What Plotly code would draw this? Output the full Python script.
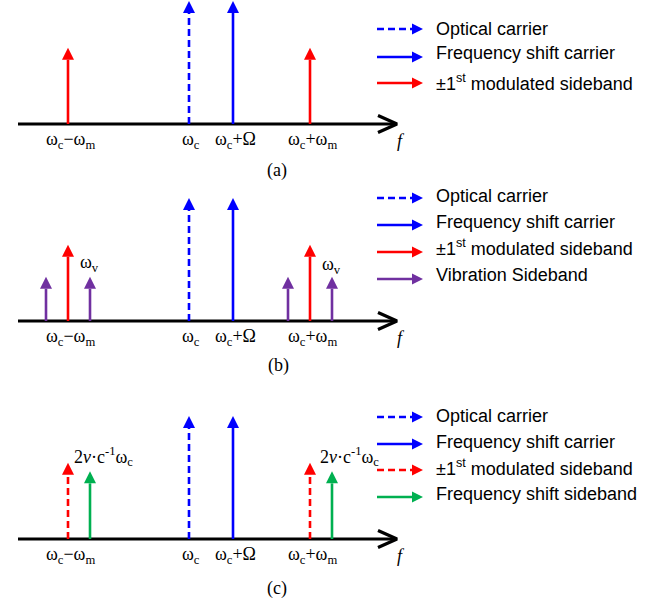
import plotly.graph_objects as go

# ---------------------------------------------------------------------------
# Spectral content (frequency offset from the optical carrier ω_c, in units
# of the vibration frequency ω_v; amplitudes relative to the carrier)
# ---------------------------------------------------------------------------
carrier_freq = [0.0]                      # ω_c
shift_carrier_freq = [2.0]                # ω_c + Ω
sideband_freq = [-5.5, 5.5]               # ω_c ± ω_m
vibration_freq = [-6.5, -4.5, 4.5, 6.5]   # ω_c ± ω_m ± ω_v
doppler_freq = [-4.5, 6.5]                # ω_c ± ω_m + 2v·c⁻¹·ω_c

carrier_amp = [1.0]
shift_carrier_amp = [1.0]
sideband_amp = [0.62, 0.62]
vibration_amp = [0.36, 0.36, 0.36, 0.36]
doppler_amp = [0.55, 0.55]

tick_freq = [-5.5, 0.0, 2.0, 5.5]
tick_text = [
    "ω<sub>c</sub>−ω<sub>m</sub>",
    "ω<sub>c</sub>",
    "ω<sub>c</sub>+Ω",
    "ω<sub>c</sub>+ω<sub>m</sub>",
]
panel_captions = ["(a)", "(b)", "(c)"]

legend_text = {
    "carrier": "Optical carrier",
    "shift": "Frequency shift carrier",
    "side": "±1<sup>st</sup> modulated sideband",
    "side_dashed": "±1<sup>st</sup> modulated sideband",
    "vib": "Vibration Sideband",
    "doppler": "Frequency shift sideband",
}

# components drawn in each panel
panels = [
    [("carrier", carrier_freq, carrier_amp),
     ("shift", shift_carrier_freq, shift_carrier_amp),
     ("side", sideband_freq, sideband_amp)],
    [("carrier", carrier_freq, carrier_amp),
     ("shift", shift_carrier_freq, shift_carrier_amp),
     ("side", sideband_freq, sideband_amp),
     ("vib", vibration_freq, vibration_amp)],
    [("carrier", carrier_freq, carrier_amp),
     ("shift", shift_carrier_freq, shift_carrier_amp),
     ("side_dashed", sideband_freq, sideband_amp),
     ("doppler", doppler_freq, doppler_amp)],
]

# ---------------------------------------------------------------------------
# Styling and layout
# ---------------------------------------------------------------------------
BLUE, RED, PURPLE, GREEN = "#0000FF", "#FF0000", "#7030A0", "#00B050"
DASH = "7px,4px"
STYLE = {
    "carrier": (BLUE, DASH),
    "shift": (BLUE, "solid"),
    "side": (RED, "solid"),
    "side_dashed": (RED, DASH),
    "vib": (PURPLE, "solid"),
    "doppler": (GREEN, "solid"),
}

SERIF = "Liberation Serif"
SANS = "Liberation Sans"

W, H = 657, 603
PX_X = 22.0            # pixels per frequency unit
PX_Y = 123.0           # pixels per amplitude unit
CARRIER_PX = 189       # horizontal pixel of ω_c
X_RANGE = [-CARRIER_PX / PX_X, (W - CARRIER_PX) / PX_X]
AXIS_START = (18 - CARRIER_PX) / PX_X
AXIS_END = (397 - CARRIER_PX) / PX_X
BASELINE_PX = [124, 321, 539]
BANDS = [(0, 200), (185, 395), (395, 603)]
HEAD = 12              # arrow head size, px
STEM_W = 2.6
AXIS_W = 3.2

CAPTION_POS = [(277, 170), (278, 365), (277, 588)]
LEG_X0, LEG_TIP, LEG_TEXT_X = 377, 423, 434
LEG_HEAD = 11
LEG_ARROW_Y = [[29, 57, 83], [198, 225, 252, 279], [417, 444, 470, 497]]
LEG_TEXT_Y = [[29, 53, 82], [196, 222, 247, 275], [416, 442, 467, 494]]

fig = go.Figure()
annotations = []
layout_axes = {}

for p, comps in enumerate(panels):
    s = "" if p == 0 else str(p + 1)
    xa, ya = "x" + s, "y" + s
    top, bot = BANDS[p]
    base = BASELINE_PX[p]
    layout_axes["xaxis" + s] = dict(domain=[0, 1], range=X_RANGE, visible=False,
                                    anchor=ya, fixedrange=True)
    layout_axes["yaxis" + s] = dict(domain=[1 - bot / H, 1 - top / H],
                                    range=[-(bot - base) / PX_Y, (base - top) / PX_Y],
                                    visible=False, anchor=xa, fixedrange=True)

    # frequency axis with open arrow head
    fig.add_trace(go.Scatter(x=[AXIS_START, AXIS_END - 0.05], y=[0, 0], mode="lines",
                             line=dict(color="black", width=AXIS_W),
                             xaxis=xa, yaxis=ya, hoverinfo="skip"))
    fig.add_trace(go.Scatter(x=[AXIS_END - 19 / PX_X, AXIS_END, AXIS_END - 19 / PX_X],
                             y=[8.5 / PX_Y, 0, -8.5 / PX_Y], mode="lines",
                             line=dict(color="black", width=AXIS_W),
                             xaxis=xa, yaxis=ya, hoverinfo="skip", cliponaxis=False))

    # spectral lines: stems + filled arrow heads
    for key, freqs, amps in comps:
        color, dash = STYLE[key]
        xs, ys = [], []
        for f, a in zip(freqs, amps):
            xs += [f, f, None]
            ys += [0, a - HEAD / PX_Y, None]
        fig.add_trace(go.Scatter(x=xs, y=ys, mode="lines",
                                 line=dict(color=color, width=STEM_W, dash=dash),
                                 xaxis=xa, yaxis=ya, hoverinfo="skip", cliponaxis=False))
        fig.add_trace(go.Scatter(x=freqs, y=amps, mode="markers",
                                 marker=dict(symbol="arrow-up", size=HEAD, color=color,
                                             line=dict(width=0)),
                                 xaxis=xa, yaxis=ya, hoverinfo="skip", cliponaxis=False))

    # frequency labels under the axis
    for f, t in zip(tick_freq, tick_text):
        annotations.append(dict(x=f, y=0, xref=xa, yref=ya, text=t, showarrow=False,
                                xanchor="center", yanchor="middle", xshift=2, yshift=-16,
                                font=dict(family=SERIF, size=18, color="black")))
    annotations.append(dict(x=AXIS_END, y=0, xref=xa, yref=ya, text="<i>f</i>",
                            showarrow=False, xanchor="center", yanchor="middle",
                            xshift=4, yshift=-17,
                            font=dict(family=SERIF, size=18, color="black")))

    # legend drawn as arrows + text
    for k, (key, _, _) in enumerate(comps):
        color, dash = STYLE[key]
        ay = LEG_ARROW_Y[p][k]
        fig.add_trace(go.Scatter(x=[LEG_X0, LEG_TIP - LEG_HEAD], y=[ay, ay], mode="lines",
                                 line=dict(color=color, width=STEM_W, dash=dash),
                                 xaxis="x4", yaxis="y4", hoverinfo="skip"))
        fig.add_trace(go.Scatter(x=[LEG_TIP], y=[ay], mode="markers",
                                 marker=dict(symbol="arrow-right", size=LEG_HEAD, color=color,
                                             line=dict(width=0)),
                                 xaxis="x4", yaxis="y4", hoverinfo="skip"))
        annotations.append(dict(x=LEG_TEXT_X, y=LEG_TEXT_Y[p][k], xref="x4", yref="y4",
                                text=legend_text[key], showarrow=False,
                                xanchor="left", yanchor="middle",
                                font=dict(family=SANS, size=18, color="black")))

    cx, cy = CAPTION_POS[p]
    annotations.append(dict(x=cx, y=cy, xref="x4", yref="y4", text=panel_captions[p],
                            showarrow=False, xanchor="center", yanchor="middle",
                            font=dict(family=SERIF, size=18, color="black")))

# vibration-frequency labels in panel (b)
for f, a in [(vibration_freq[1], 0.47), (vibration_freq[3], 0.45)]:
    annotations.append(dict(x=f, y=a, xref="x2", yref="y2", text="ω<sub>v</sub>",
                            showarrow=False, xanchor="center", yanchor="middle", xshift=-1,
                            font=dict(family=SERIF, size=18, color="black")))

# Doppler-shift labels in panel (c)
for f, dx in [(sideband_freq[0], 4), (sideband_freq[1], 8)]:
    annotations.append(dict(x=f, y=0.67, xref="x3", yref="y3",
                            text="2<i>v</i>·c<sup>-1</sup>ω<sub>c</sub>",
                            showarrow=False, xanchor="left", yanchor="middle", xshift=dx,
                            font=dict(family=SERIF, size=18, color="black")))

layout_axes["xaxis4"] = dict(domain=[0, 1], range=[0, W], visible=False, anchor="y4",
                             fixedrange=True)
layout_axes["yaxis4"] = dict(domain=[0, 1], range=[H, 0], visible=False, anchor="x4",
                             fixedrange=True)

fig.update_layout(
    width=W, height=H,
    margin=dict(l=0, r=0, t=0, b=0),
    paper_bgcolor="white", plot_bgcolor="rgba(0,0,0,0)",
    showlegend=False,
    annotations=annotations,
    **layout_axes,
)

fig.write_html("out.html", config={"displayModeBar": False})
